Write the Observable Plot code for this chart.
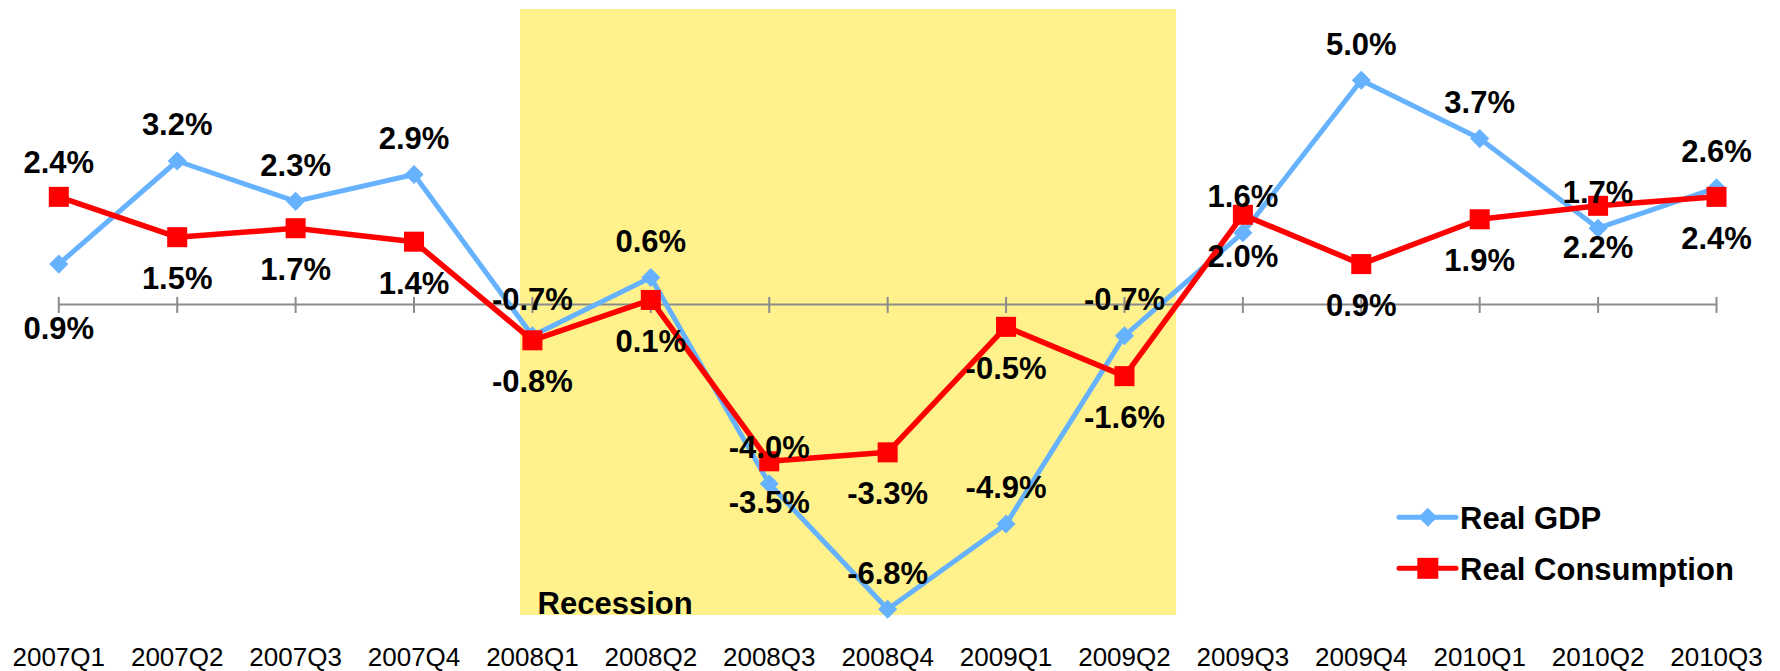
<!DOCTYPE html>
<html>
<head>
<meta charset="utf-8">
<script src="https://cdn.jsdelivr.net/npm/d3@7"></script>
<script src="https://cdn.jsdelivr.net/npm/@observablehq/plot@0.6"></script>
<style>
  html, body { margin: 0; padding: 0; background: #fff; }
  #wrap { position: relative; width: 1780px; height: 671px; font-family: "Liberation Sans", Arial, sans-serif; }
  #legend { position: absolute; left: 1390px; top: 490px; }
</style>
</head>
<body>
<div id="wrap"></div>
<script>
// ---- data ----
const quarters = ["2007Q1","2007Q2","2007Q3","2007Q4","2008Q1","2008Q2","2008Q3","2008Q4",
                  "2009Q1","2009Q2","2009Q3","2009Q4","2010Q1","2010Q2","2010Q3"];
const realGDP = [0.9, 3.2, 2.3, 2.9, -0.7, 0.6, -4.0, -6.8, -4.9, -0.7, 1.6, 5.0, 3.7, 1.7, 2.6];
const realConsumption = [2.4, 1.5, 1.7, 1.4, -0.8, 0.1, -3.5, -3.3, -0.5, -1.6, 2.0, 0.9, 1.9, 2.2, 2.4];
const seriesNames = ["Real GDP", "Real Consumption"];
const seriesColors = ["#66B2FF", "#FF0000"];
const recessionSpan = [3.9, 9.44];      // in quarter-index units
const recessionLabel = "Recession";
const swappedLabelQuarters = ["2007Q1"]; // quarters where label sides are swapped
const yDomain = [-6.94, 6.58];

// ---- build table ----
const gdpRows = quarters.map((q, i) => ({i, q, v: realGDP[i]}));
const conRows = quarters.map((q, i) => ({i, q, v: realConsumption[i]}));
const isSwapped = d => swappedLabelQuarters.includes(d.q);
const fmt = v => v.toFixed(1) + "%";
const font = '"Liberation Sans", Arial, sans-serif';
const tickIdx = quarters.map((_, i) => i);

const labelStyle = {fontSize: 31, fontWeight: "bold", fill: "#000", textAnchor: "middle", lineAnchor: "middle"};

const chart = Plot.plot({
  width: 1780,
  height: 671,
  marginLeft: 58.3,
  marginRight: 64,
  marginTop: 9,
  marginBottom: 56,
  style: {fontFamily: font, fontSize: "26px", background: "#fff", color: "#000"},
  x: {type: "linear", domain: [0, quarters.length - 1]},
  y: {domain: yDomain, axis: null},
  marks: [
    Plot.rect([recessionSpan], {x1: d => d[0], x2: d => d[1], y1: yDomain[0], y2: yDomain[1], fill: "#FFF28C"}),
    Plot.text([recessionLabel], {x: recessionSpan[0], frameAnchor: "bottom", textAnchor: "start", lineAnchor: "bottom",
      dx: 17, dy: -1.7, fontSize: 31, fontWeight: "bold", fill: "#000"}),
    Plot.axisX({ticks: tickIdx, tickFormat: i => quarters[i], tickSize: 0, tickPadding: 32, fontSize: 26, fill: "#000", label: null}),
    Plot.ruleY([0], {x1: 0, x2: quarters.length - 1, stroke: "#8C8C8C", strokeWidth: 2}),
    Plot.ruleX(tickIdx, {x: d => d, y1: 0, y2: 0, insetTop: -7, insetBottom: -9, stroke: "#8C8C8C", strokeWidth: 2}),
    // Real GDP
    Plot.line(gdpRows, {x: "i", y: "v", stroke: seriesColors[0], strokeWidth: 5, strokeLinejoin: "round"}),
    Plot.dot(gdpRows, {x: "i", y: "v", symbol: "diamond2", r: 8.6, fill: seriesColors[0], stroke: "none"}),
    // Real Consumption
    Plot.line(conRows, {x: "i", y: "v", stroke: seriesColors[1], strokeWidth: 5.5, strokeLinejoin: "miter"}),
    Plot.dot(conRows, {x: "i", y: "v", symbol: "square", r: 11.3, fill: seriesColors[1], stroke: "none"}),
    // labels
    Plot.text(gdpRows.filter(d => !isSwapped(d)), {x: "i", y: "v", text: d => fmt(d.v), dy: -35.5, ...labelStyle}),
    Plot.text(gdpRows.filter(isSwapped), {x: "i", y: "v", text: d => fmt(d.v), dy: 64.8, ...labelStyle}),
    Plot.text(conRows.filter(d => !isSwapped(d)), {x: "i", y: "v", text: d => fmt(d.v), dy: 42, ...labelStyle}),
    Plot.text(conRows.filter(isSwapped), {x: "i", y: "v", text: d => fmt(d.v), dy: -33.4, ...labelStyle})
  ]
});

const wrap = document.getElementById("wrap");
wrap.appendChild(chart);

// ---- legend (overlay) ----
const ns = "http://www.w3.org/2000/svg";
const leg = document.createElementNS(ns, "svg");
leg.setAttribute("id", "legend");
leg.setAttribute("width", 385);
leg.setAttribute("height", 110);
const rowY = [27.3, 78.3];
seriesNames.forEach((name, k) => {
  const y = rowY[k];
  const line = document.createElementNS(ns, "line");
  line.setAttribute("x1", 9); line.setAttribute("x2", 66);
  line.setAttribute("y1", y); line.setAttribute("y2", y);
  line.setAttribute("stroke", seriesColors[k]);
  line.setAttribute("stroke-width", 5);
  line.setAttribute("stroke-linecap", "round");
  leg.appendChild(line);
  const sym = document.createElementNS(ns, "path");
  const cx = 37.8;
  if (k === 0) {
    const h = 9.5;
    sym.setAttribute("d", `M${cx},${y - h}L${cx + h},${y}L${cx},${y + h}L${cx - h},${y}Z`);
  } else {
    const s = 10.5;
    sym.setAttribute("d", `M${cx - s},${y - s}H${cx + s}V${y + s}H${cx - s}Z`);
  }
  sym.setAttribute("fill", seriesColors[k]);
  leg.appendChild(sym);
  const t = document.createElementNS(ns, "text");
  t.setAttribute("x", 70);
  t.setAttribute("y", y + 11.7);
  t.setAttribute("font-family", font);
  t.setAttribute("font-size", 31);
  t.setAttribute("font-weight", "bold");
  t.setAttribute("fill", "#000");
  t.textContent = name;
  leg.appendChild(t);
});
wrap.appendChild(leg);
</script>
</body>
</html>
